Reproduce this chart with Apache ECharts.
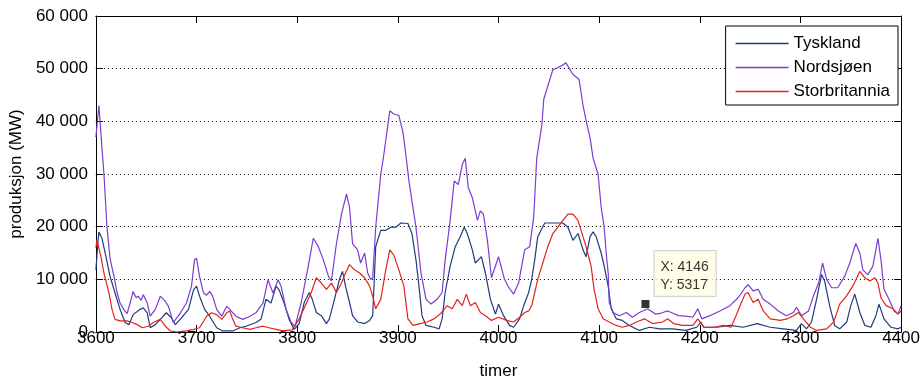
<!DOCTYPE html>
<html>
<head>
<meta charset="utf-8">
<script src="https://cdn.jsdelivr.net/npm/echarts@6/dist/echarts.min.js"></script>
<style>
	html, body { margin: 0; padding: 0; background: #fff; }
	#plot { width: 923px; height: 385px; }
</style>
</head>
<body>
<div id="plot"></div>
<script>
// [time (h), production (MW)]
var tyskland = [[3600,11800],[3602,17000],[3603,19000],[3606,17800],[3610,14300],[3614,10600],[3619,7400],[3624,4300],[3629,1800],[3633,1400],[3637,3300],[3644,4300],[3647,4600],[3651,3650],[3654,800],[3659,1400],[3664,2400],[3670,3650],[3675,2700],[3679,1400],[3685,2700],[3692,4300],[3697,8000],[3700,8700],[3703,6800],[3708,4300],[3713,3000],[3720,800],[3726,200],[3736,200],[3743,800],[3749,1100],[3759,1800],[3764,2400],[3769,6200],[3774,5500],[3779,8700],[3782,8000],[3787,5500],[3792,2400],[3797,500],[3802,1600],[3807,5600],[3812,7500],[3815,6200],[3819,3700],[3824,3100],[3829,1600],[3832,2500],[3837,6200],[3842,10000],[3845,11500],[3848,8700],[3852,5600],[3855,3100],[3860,1900],[3867,1600],[3872,2200],[3875,3100],[3878,16200],[3883,19300],[3888,19300],[3893,19900],[3898,19900],[3903,20700],[3910,20600],[3914,18700],[3918,13700],[3921,8700],[3924,3100],[3928,1250],[3936,900],[3941,600],[3944,2500],[3947,7500],[3952,12500],[3957,16200],[3962,18100],[3966,19900],[3969,18700],[3974,15600],[3977,13100],[3980,13700],[3983,14300],[3987,11200],[3992,6200],[3997,3400],[4000,5300],[4005,3100],[4011,1250],[4015,900],[4021,2500],[4025,5000],[4030,7500],[4033,10000],[4036,13700],[4039,18100],[4043,19600],[4046,20700],[4064,20700],[4069,19900],[4074,17400],[4079,18700],[4084,15600],[4087,14300],[4091,18100],[4094,19000],[4097,18100],[4102,15000],[4105,12500],[4109,8700],[4112,4400],[4117,2500],[4123,2200],[4130,1250],[4140,300],[4150,900],[4160,600],[4173,600],[4186,300],[4197,900],[4201,1900],[4204,900],[4217,900],[4230,1250],[4243,900],[4257,1600],[4270,900],[4283,600],[4296,300],[4301,1600],[4306,600],[4311,1900],[4316,6200],[4321,10900],[4324,9700],[4329,5000],[4334,1250],[4339,600],[4346,1900],[4350,5000],[4354,7200],[4359,3700],[4364,1250],[4370,900],[4375,3100],[4378,5300],[4383,2500],[4390,900],[4397,600],[4400,900]];

var nordsjoen = [[3600,37000],[3603,43000],[3606,35000],[3608,30000],[3611,20000],[3614,14000],[3618,10500],[3621,7500],[3624,5500],[3628,4200],[3631,3500],[3634,5500],[3637,7700],[3640,6500],[3642,6800],[3645,6000],[3647,7100],[3651,5500],[3654,3000],[3659,4300],[3664,6800],[3669,5800],[3672,4900],[3675,3000],[3677,1800],[3680,2600],[3684,3650],[3690,5500],[3695,8700],[3698,13700],[3700,14000],[3703,10500],[3707,7400],[3710,7000],[3713,7700],[3716,6800],[3720,4300],[3725,3000],[3730,4900],[3733,4300],[3739,3000],[3746,2400],[3753,3000],[3759,3650],[3766,5500],[3771,9900],[3776,7400],[3781,9900],[3784,8700],[3789,4300],[3794,1800],[3798,1100],[3804,5600],[3811,12500],[3816,17800],[3821,16200],[3826,13700],[3831,10600],[3834,9700],[3839,16800],[3844,22400],[3849,26200],[3852,23700],[3855,16800],[3860,15600],[3863,13100],[3867,15000],[3870,11200],[3873,10000],[3875,10300],[3878,19900],[3883,29900],[3886,33600],[3890,39200],[3892,42000],[3896,41400],[3901,41100],[3905,38000],[3908,33600],[3911,28700],[3914,24900],[3918,19900],[3923,11200],[3928,6200],[3933,5300],[3939,6200],[3944,7500],[3947,13700],[3952,21200],[3956,28700],[3960,28000],[3964,31800],[3967,33000],[3970,27400],[3974,25500],[3977,23000],[3979,21200],[3982,23000],[3985,22400],[3989,17400],[3993,10300],[3998,13100],[4000,14300],[4006,10000],[4010,8500],[4015,7200],[4020,9300],[4026,15600],[4031,16200],[4035,21800],[4038,33000],[4043,39200],[4045,44200],[4049,46700],[4054,49800],[4059,50200],[4063,50600],[4067,51100],[4074,48900],[4080,48000],[4084,43000],[4087,40200],[4091,36800],[4094,33000],[4099,29900],[4102,23700],[4105,19900],[4107,15000],[4109,11200],[4110,5600],[4114,3700],[4120,3100],[4127,3700],[4133,2800],[4140,3700],[4148,4400],[4156,3400],[4162,3600],[4168,4000],[4174,3500],[4179,3100],[4186,3000],[4193,2800],[4198,4400],[4202,2500],[4210,3100],[4220,4000],[4230,5000],[4238,6500],[4245,8400],[4248,9000],[4253,7800],[4258,8100],[4263,6200],[4270,5300],[4278,4000],[4286,3100],[4293,3700],[4296,4700],[4301,3100],[4308,4000],[4313,6900],[4318,9300],[4322,13100],[4326,10000],[4331,8400],[4337,8400],[4344,10600],[4349,13100],[4355,16800],[4359,15000],[4362,11800],[4367,10900],[4372,12500],[4377,17800],[4380,13700],[4383,8100],[4388,6200],[4393,4000],[4397,3400],[4400,5000]];

var storbritannia = [[3600,16000],[3601,17500],[3605,14300],[3608,11200],[3613,7400],[3616,4300],[3619,2400],[3624,2100],[3631,2100],[3636,1800],[3641,1400],[3646,800],[3652,1100],[3657,1800],[3664,2400],[3669,1100],[3674,200],[3680,0],[3690,200],[3697,500],[3703,800],[3710,3000],[3715,3650],[3720,3300],[3725,2400],[3730,3650],[3733,4000],[3736,2400],[3739,1100],[3746,800],[3753,500],[3759,800],[3766,1100],[3772,800],[3779,500],[3786,200],[3795,400],[3802,2500],[3808,5000],[3814,7500],[3819,10300],[3824,9300],[3829,8100],[3834,9300],[3839,7500],[3844,9300],[3848,11200],[3852,12800],[3857,11800],[3862,11200],[3867,10300],[3872,8700],[3875,6800],[3878,4400],[3883,6200],[3888,11800],[3892,15600],[3896,14600],[3901,11800],[3906,8700],[3910,2500],[3915,1250],[3922,1600],[3929,1900],[3936,2500],[3942,3400],[3949,5000],[3954,4400],[3959,6200],[3964,5000],[3968,7200],[3972,5000],[3977,5600],[3982,3700],[3987,3100],[3993,2200],[4000,2800],[4008,2200],[4015,1900],[4021,2800],[4026,3700],[4030,4000],[4033,5000],[4036,7500],[4039,10000],[4044,13100],[4049,16200],[4054,18700],[4059,19900],[4064,21200],[4069,22400],[4074,22400],[4079,21200],[4082,19300],[4087,16200],[4092,12500],[4095,8100],[4099,4400],[4104,2500],[4110,1900],[4117,1250],[4123,900],[4130,1250],[4137,1900],[4145,2500],[4153,1600],[4163,1900],[4168,2500],[4174,1600],[4183,1250],[4193,1250],[4198,2500],[4204,900],[4214,900],[4224,1250],[4231,900],[4236,3100],[4240,5000],[4245,7200],[4248,7500],[4253,5600],[4258,6200],[4263,4000],[4270,2500],[4280,2200],[4287,2500],[4293,3100],[4298,3700],[4303,2500],[4310,900],[4316,300],[4326,600],[4333,1900],[4339,5300],[4346,6900],[4352,8700],[4359,11500],[4364,10300],[4369,9700],[4374,10300],[4377,9300],[4380,6500],[4385,5000],[4392,4400],[4397,3400],[4400,4000]];

var seriesNames = ['Tyskland', 'Nordsjøen', 'Storbritannia'];
var dataTip = [4146, 5317];
var xTicks = [3600, 4400, 100];
var yTicks = [0, 60000, 10000];

(function(){
	var font = 'Arial, "Liberation Sans", sans-serif';
	var chart = echarts.init(document.getElementById('plot'));

	function spaced(v) {
		return String(v).replace(/\B(?=(\d{3})+(?!\d))/g, ' ');
	}

	var boxAxis = {
		axisLine: { show: true, onZero: false, lineStyle: { color: '#000', width: 1 } },
		axisTick: { show: true, inside: true, length: 7, lineStyle: { color: '#000' } },
		axisLabel: { show: false },
		splitLine: { show: false }
	};

	var option = {
		backgroundColor: '#fff',
		animation: false,
		grid: { left: 95, right: 18, top: 16, bottom: 48 },
		legend: {
			data: seriesNames,
			orient: 'vertical',
			right: 25,
			top: 26,
			icon: 'rect',
			backgroundColor: '#fff',
			borderColor: '#000',
			borderWidth: 1,
			padding: [9, 8, 5, 10],
			itemWidth: 53,
			itemHeight: 1.5,
			itemGap: 7,
			textStyle: { fontFamily: font, fontSize: 17, color: '#000' }
		},
		xAxis: [{
			type: 'value',
			min: xTicks[0], max: xTicks[1], interval: xTicks[2],
			name: 'timer',
			nameLocation: 'middle',
			nameGap: 31,
			nameTextStyle: { fontFamily: font, fontSize: 17, color: '#000' },
			axisLine: { onZero: false, lineStyle: { color: '#000' } },
			axisTick: { inside: true, length: 7, lineStyle: { color: '#000' } },
			axisLabel: { margin: -2, fontFamily: font, fontSize: 17, color: '#000', formatter: function (v) { return String(v); } },
			splitLine: { show: false }
		}, echarts.util.merge({
			type: 'value', position: 'top',
			min: xTicks[0], max: xTicks[1], interval: xTicks[2]
		}, boxAxis)],
		yAxis: [{
			type: 'value',
			min: yTicks[0], max: yTicks[1], interval: yTicks[2],
			name: 'produksjon (MW)',
			nameLocation: 'middle',
			nameGap: 62,
			nameTextStyle: { fontFamily: font, fontSize: 17, color: '#000' },
			axisLine: { show: true, lineStyle: { color: '#000' } },
			axisTick: { show: true, inside: true, length: 7, lineStyle: { color: '#000' } },
			axisLabel: { margin: 8, fontFamily: font, fontSize: 17, color: '#000', formatter: spaced },
			splitLine: { show: true, lineStyle: { color: '#000', width: 1, type: [1, 3] } }
		}, echarts.util.merge({
			type: 'value', position: 'right',
			min: yTicks[0], max: yTicks[1], interval: yTicks[2]
		}, boxAxis)],
		series: [{
			name: seriesNames[0],
			type: 'line',
			data: tyskland,
			symbol: 'none',
			color: '#1f3b7c',
			lineStyle: { width: 1.2 }
		}, {
			name: seriesNames[1],
			type: 'line',
			data: nordsjoen,
			symbol: 'none',
			color: '#7c3cd2',
			lineStyle: { width: 1.2 }
		}, {
			name: seriesNames[2],
			type: 'line',
			data: storbritannia,
			symbol: 'none',
			color: '#e3231e',
			lineStyle: { width: 1.2 }
		}, {
			name: 'datatip',
			type: 'scatter',
			data: [dataTip],
			symbol: 'rect',
			symbolSize: 8,
			silent: true,
			z: 5,
			itemStyle: { color: '#000' },
			label: {
				show: true,
				position: [13, -49],
				formatter: function (p) {
					return 'X: ' + p.data[0] + '\nY: ' + p.data[1];
				},
				fontFamily: font,
				fontSize: 14,
				lineHeight: 18,
				color: '#000',
				backgroundColor: '#ffffe4',
				borderColor: '#c8c8c0',
				borderWidth: 1,
				padding: [7, 7, 2, 6]
			}
		}]
	};

	chart.setOption(option);
})();
</script>
</body>
</html>
